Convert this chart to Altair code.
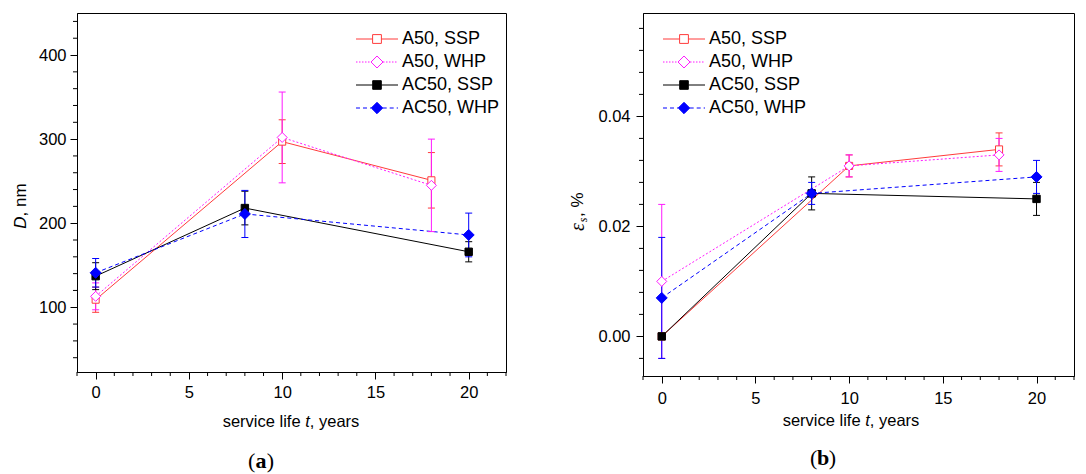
import altair as alt
import pandas as pd

SANS = "Liberation Sans"
SERIF = "Liberation Serif"

SERIES = ["A50, SSP", "A50, WHP", "AC50, SSP", "AC50, WHP"]
T_A50 = [0, 10, 18]
T_AC50 = [0, 8, 20]

# panel (a): D, nm
D_A50_SSP = [109, 297, 251]
D_A50_SSP_ERR = [15, 26, 33]
D_A50_WHP = [113, 302, 245]
D_A50_WHP_ERR = [16, 54, 55]
D_AC50_SSP = [137, 218, 166]
D_AC50_SSP_ERR = [16, 20, 12]
D_AC50_WHP = [141, 211, 186]
D_AC50_WHP_ERR = [17, 28, 26]

# panel (b): eps_s, %
E_A50_SSP = [0.000, 0.031, 0.034]
E_A50_SSP_ERR = [0.0, 0.002, 0.003]
E_A50_WHP = [0.010, 0.031, 0.033]
E_A50_WHP_ERR = [0.014, 0.002, 0.003]
E_AC50_SSP = [0.000, 0.026, 0.025]
E_AC50_SSP_ERR = [0.0, 0.003, 0.003]
E_AC50_WHP = [0.007, 0.026, 0.029]
E_AC50_WHP_ERR = [0.011, 0.002, 0.003]

X_MAJOR = [0, 5, 10, 15, 20]
X_MINOR = [-1, 1, 2, 3, 4, 6, 7, 8, 9, 11, 12, 13, 14, 16, 17, 18, 19, 21, 22]
D_MAJOR = [100, 200, 300, 400]
D_MINOR = [40, 60, 80, 120, 140, 160, 180, 220, 240, 260, 280, 320, 340, 360, 380, 420, 440]
E_MAJOR = [0.0, 0.02, 0.04]
E_MINOR = [-0.004, 0.004, 0.008, 0.012, 0.016, 0.024, 0.028, 0.032, 0.036,
           0.044, 0.048, 0.052, 0.056]

RED = "#ff3b3b"
MAG = "#ff1aff"
BLK = "#000000"
BLU = "#0000ff"

STYLE = {
    "A50, SSP": dict(color=RED, dash=None, shape="square", fill="white", size=50),
    "A50, WHP": dict(color=MAG, dash=[2, 2], shape="diamond", fill="white", size=100),
    "AC50, SSP": dict(color=BLK, dash=None, shape="square", fill=BLK, size=55),
    "AC50, WHP": dict(color=BLU, dash=[4, 3], shape="diamond", fill=BLU, size=121),
}

# ---------- legend symbol paths (line sample + marker) ----------
SYM = 14.0            # legend symbol size side (px); path may extend beyond it
U = SYM / 2.0         # 1 path unit in px
HALF = 21.0           # half-length of the line sample (px)


def segs(x0, x1, on, off):
    out = []
    x = x0
    while x < x1 - 0.01:
        e = min(x + on, x1)
        out.append(f"M{x / U:.3f},0H{e / U:.3f}")
        x = e + off
    return "".join(out)


def line_part(g, on, off):
    return segs(-HALF, -g, on, off) + segs(g, HALF, on, off)


def sq(h):
    h = h / U
    return f"M{-h:.3f},{-h:.3f}H{h:.3f}V{h:.3f}H{-h:.3f}Z"


def dia(h):
    h = h / U
    return f"M0,{-h:.3f}L{h:.3f},0L0,{h:.3f}L{-h:.3f},0Z"


PATHS = [
    line_part(4.4, 100, 0) + sq(4.4),
    line_part(6, 1.5, 1.5) + dia(6),
    line_part(4.3, 100, 0) + sq(4.3),
    line_part(5.7, 4, 3) + dia(5.7),
]
FILLS = ["white", "white", BLK, BLU]
COLORS = [RED, MAG, BLK, BLU]


def build_df(items):
    recs = []
    for name, ts, vs, es in items:
        for t, v, e in zip(ts, vs, es):
            recs.append(dict(series=name, t=t, v=v, err=e, lo=v - e, hi=v + e))
    return pd.DataFrame(recs)


df_a = build_df([
    ("A50, SSP", T_A50, D_A50_SSP, D_A50_SSP_ERR),
    ("A50, WHP", T_A50, D_A50_WHP, D_A50_WHP_ERR),
    ("AC50, SSP", T_AC50, D_AC50_SSP, D_AC50_SSP_ERR),
    ("AC50, WHP", T_AC50, D_AC50_WHP, D_AC50_WHP_ERR),
])
df_b = build_df([
    ("A50, SSP", T_A50, E_A50_SSP, E_A50_SSP_ERR),
    ("A50, WHP", T_A50, E_A50_WHP, E_A50_WHP_ERR),
    ("AC50, SSP", T_AC50, E_AC50_SSP, E_AC50_SSP_ERR),
    ("AC50, WHP", T_AC50, E_AC50_WHP, E_AC50_WHP_ERR),
])


def txt(s, x, y, size, angle=0, align="center", baseline="middle",
        style="normal", weight="normal", font=SANS):
    kw = dict(text=s, fontSize=size, align=align, baseline=baseline,
              fontStyle=style, fontWeight=weight, font=font, color="black")
    if angle:
        kw["angle"] = angle
    return alt.Chart(alt.Data(values=[{"a": 1}])).mark_text(**kw).encode(
        x=alt.value(x), y=alt.value(y))


def xtitle(c, y):
    fs = 16.5
    return [
        txt("service life", c + 9.6, y, fs, align="right"),
        txt("t", c + 14.2, y, fs, align="left", style="italic"),
        txt(", years", c + 18.8, y, fs, align="left"),
    ]


def panel_label(letter, c, y):
    fs = 22
    w = 11.5
    return [
        txt("(", c - w / 2, y, fs, align="right", font=SERIF),
        txt(letter, c, y, fs, align="center", weight="bold", font=SERIF),
        txt(")", c + w / 2, y, fs, align="left", font=SERIF),
    ]


def make_panel(df, W, H, ydom, ymaj, ymin, yfmt, ylabpad, xlabpad, legx, legy, extra):
    xs = alt.Scale(domain=[-1, 22], nice=False, zero=False)
    ys = alt.Scale(domain=ydom, nice=False, zero=False)
    xax = alt.Axis(values=X_MAJOR, title=None, tickSize=7, labelPadding=xlabpad,
                   grid=False, labelFlush=False, format="d", labelFontSize=16.5)
    yax = alt.Axis(values=ymaj, title=None, tickSize=7, labelPadding=ylabpad,
                   grid=False, format=yfmt, labelFontSize=16.5)

    def X(f):
        return alt.X(f, type="quantitative", scale=xs, axis=xax)

    def Y(f):
        return alt.Y(f, type="quantitative", scale=ys, axis=yax)

    base = alt.Chart(df)
    layers = []
    for name in SERIES:
        st = STYLE[name]
        kw = dict(color=st["color"], strokeWidth=1)
        if st["dash"]:
            kw["strokeDash"] = st["dash"]
        layers.append(base.transform_filter(f"datum.series == '{name}'")
                      .mark_line(**kw).encode(x=X("t"), y=Y("v")))
    for name in SERIES:
        st = STYLE[name]
        sub = base.transform_filter(f"datum.series == '{name}' && datum.err > 0")
        layers.append(sub.mark_rule(color=st["color"], strokeWidth=1)
                      .encode(x=X("t"), y=Y("lo"), y2=alt.Y2("hi")))
        for f in ("lo", "hi"):
            layers.append(sub.mark_tick(orient="horizontal", color=st["color"], size=7,
                                        thickness=1, opacity=1)
                          .encode(x=X("t"), y=Y(f)))
    for name in SERIES:
        st = STYLE[name]
        layers.append(base.transform_filter(f"datum.series == '{name}'")
                      .mark_point(shape=st["shape"], size=st["size"], filled=True,
                                  fill=st["fill"], stroke=st["color"], strokeWidth=1,
                                  opacity=1)
                      .encode(x=X("t"), y=Y("v")))
    # minor ticks
    layers.append(alt.Chart(pd.DataFrame({"m": ymin})).mark_rule(color="black", strokeWidth=1)
                  .encode(y=Y("m"), x=alt.value(0), x2=alt.value(-4)))
    layers.append(alt.Chart(pd.DataFrame({"m": X_MINOR})).mark_rule(color="black", strokeWidth=1)
                  .encode(x=X("m"), y=alt.value(H), y2=alt.value(H + 4)))
    # legend
    leg = alt.Legend(title=None, orient="none", legendX=legx + (HALF - U), legendY=legy,
                     symbolSize=SYM * SYM, symbolStrokeWidth=1, labelFontSize=18,
                     labelFont=SANS, labelColor="black",
                     labelOffset=5 + (HALF - U) - 3, rowPadding=5,
                     padding=0, symbolOpacity=1, labelLimit=300)
    layers.append(base.transform_filter("false")
                  .mark_point(filled=True, opacity=1, strokeWidth=1)
                  .encode(x=X("t"), y=Y("v"),
                          shape=alt.Shape("series:N", scale=alt.Scale(domain=SERIES, range=PATHS), legend=leg),
                          fill=alt.Fill("series:N", scale=alt.Scale(domain=SERIES, range=FILLS), legend=leg),
                          stroke=alt.Stroke("series:N", scale=alt.Scale(domain=SERIES, range=COLORS), legend=leg)))
    layers += extra
    return alt.layer(*layers).properties(width=W, height=H)


# titles for panel (a)
ya_c = 193
extra_a = [
    txt("D", -56, ya_c + 22.7, 17, angle=270, align="left", style="italic"),
    txt(", nm", -56, ya_c + 22.7 - 12.3, 17, angle=270, align="left"),
] + xtitle(214, 408.7) + panel_label("a", 184, 448)

yb_c = 199
extra_b = [
    txt("ε", -65, yb_c + 19, 20, angle=270, align="left", style="italic", font=SERIF),
    txt("s", -60.5, yb_c + 19 - 8.8, 12, angle=270, align="left", style="italic", font=SERIF),
    txt(", %", -65, yb_c + 19 - 8.8 - 5.2, 17, angle=270, align="left"),
] + xtitle(208, 407.7) + panel_label("b", 180, 445)

left = make_panel(df_a, 429, 359, [23, 450], D_MAJOR, D_MINOR, "d", 4, 5, 277, 17, extra_a)
right = make_panel(df_b, 431, 363, [-0.0072, 0.0588], E_MAJOR, E_MINOR, ".2f", 6, 7, 18, 17, extra_b)

chart = (alt.hconcat(left, right, spacing=137, bounds="flush")
         .resolve_scale(shape="independent", fill="independent", stroke="independent")
         .properties(padding={"left": 11, "top": 12, "right": 5, "bottom": 0})
         .configure_view(stroke="black", strokeWidth=1)
         .configure_axis(labelFont=SANS, labelFontSize=16.5, labelColor="black",
                         tickColor="black", domainColor="black", domainWidth=1, tickWidth=1))

chart.save("out.html", embed_options={"renderer": "svg", "actions": False})
